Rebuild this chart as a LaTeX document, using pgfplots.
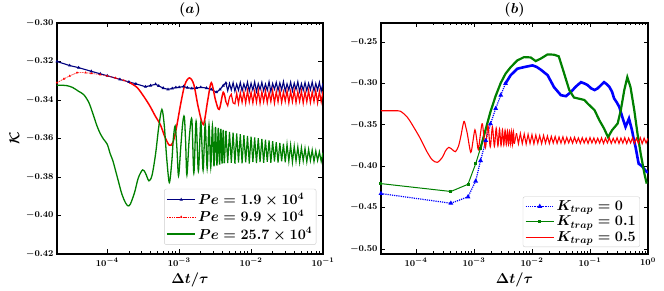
\documentclass[border=0pt]{standalone}
\usepackage{pgfplots}
\usepackage{pgfplotstable}
\pgfplotsset{compat=1.18}
\definecolor{navyc}{RGB}{0,0,128}
\definecolor{greenc}{RGB}{0,128,0}
\definecolor{redc}{RGB}{255,0,0}
\definecolor{bluec}{RGB}{0,0,255}

\pgfplotstableread{
x b r g
0.004467 -0.3312 -0.3410 -0.3560
0.004732 -0.3352 -0.3430 -0.3728
0.005012 -0.3314 -0.3385 -0.3566
0.005309 -0.3348 -0.3370 -0.3726
0.005623 -0.3310 -0.3415 -0.3570
0.005957 -0.3355 -0.3420 -0.3731
0.006310 -0.3318 -0.3365 -0.3574
0.006683 -0.3350 -0.3418 -0.3725
0.007079 -0.3309 -0.3362 -0.3578
0.007499 -0.3353 -0.3412 -0.3729
0.007943 -0.3316 -0.3358 -0.3583
0.008414 -0.3347 -0.3416 -0.3724
0.008913 -0.3307 -0.3352 -0.3587
0.009441 -0.3354 -0.3410 -0.3730
0.010000 -0.3313 -0.3360 -0.3590
0.010593 -0.3349 -0.3415 -0.3723
0.011220 -0.3306 -0.3355 -0.3595
0.011885 -0.3356 -0.3411 -0.3728
0.012589 -0.3315 -0.3350 -0.3598
0.013335 -0.3346 -0.3417 -0.3722
0.014125 -0.3308 -0.3357 -0.3602
0.014962 -0.3352 -0.3409 -0.3727
0.015849 -0.3317 -0.3353 -0.3606
0.016788 -0.3350 -0.3414 -0.3721
0.017783 -0.3305 -0.3359 -0.3610
0.018836 -0.3357 -0.3408 -0.3726
0.019953 -0.3314 -0.3351 -0.3614
0.021135 -0.3345 -0.3416 -0.3720
0.022387 -0.3308 -0.3356 -0.3619
0.023714 -0.3351 -0.3410 -0.3725
0.025119 -0.3311 -0.3349 -0.3623
0.026607 -0.3348 -0.3413 -0.3719
0.028184 -0.3304 -0.3358 -0.3627
0.029854 -0.3355 -0.3407 -0.3724
0.031623 -0.3316 -0.3352 -0.3631
0.033497 -0.3349 -0.3415 -0.3718
0.035481 -0.3307 -0.3355 -0.3635
0.037584 -0.3353 -0.3409 -0.3723
0.039811 -0.3312 -0.3350 -0.3640
0.042170 -0.3346 -0.3414 -0.3717
0.044668 -0.3305 -0.3357 -0.3644
0.047315 -0.3356 -0.3408 -0.3722
0.050119 -0.3315 -0.3353 -0.3648
0.053088 -0.3350 -0.3416 -0.3716
0.056234 -0.3309 -0.3356 -0.3652
0.059566 -0.3352 -0.3410 -0.3721
0.063096 -0.3313 -0.3351 -0.3656
0.066834 -0.3347 -0.3413 -0.3715
0.070795 -0.3306 -0.3358 -0.3660
0.074989 -0.3354 -0.3409 -0.3720
0.079433 -0.3314 -0.3352 -0.3665
0.084140 -0.3349 -0.3415 -0.3714
0.089125 -0.3308 -0.3355 -0.3669
0.094406 -0.3355 -0.3410 -0.3719
0.100000 -0.3312 -0.3354 -0.3673
}\leftnoise

\pgfplotstableread{
x r
0.005412 -0.3600
0.005843 -0.3728
0.006310 -0.3605
0.006813 -0.3726
0.007356 -0.3612
0.007943 -0.3731
0.008577 -0.3615
0.009261 -0.3724
0.010000 -0.3620
0.010798 -0.3729
0.011659 -0.3624
0.012589 -0.3722
0.013594 -0.3630
0.014678 -0.3727
0.015849 -0.3628
0.017113 -0.3721
0.018478 -0.3636
0.019953 -0.3726
0.021544 -0.3640
0.023263 -0.3719
0.025119 -0.3642
0.027123 -0.3724
0.029286 -0.3648
0.031623 -0.3720
0.034145 -0.3645
0.036869 -0.3725
0.039811 -0.3652
0.042987 -0.3718
0.046416 -0.3655
0.050119 -0.3722
0.054117 -0.3650
0.058434 -0.3717
0.063096 -0.3658
0.068129 -0.3723
0.073564 -0.3656
0.079433 -0.3719
0.085770 -0.3660
0.092611 -0.3724
0.100000 -0.3654
0.107980 -0.3718
0.116590 -0.3659
0.125890 -0.3722
0.135940 -0.3662
0.146780 -0.3720
0.158490 -0.3657
0.171130 -0.3725
0.184780 -0.3661
0.199530 -0.3719
0.215440 -0.3658
0.232630 -0.3723
0.251190 -0.3663
0.271230 -0.3718
0.292860 -0.3656
0.316230 -0.3724
0.341450 -0.3660
0.368690 -0.3720
0.398110 -0.3655
0.429870 -0.3726
0.464160 -0.3661
0.501190 -0.3719
0.541170 -0.3657
0.584340 -0.3724
0.630960 -0.3662
0.681290 -0.3721
0.735640 -0.3656
0.794330 -0.3727
0.857700 -0.3660
0.926110 -0.3720
1.000000 -0.3664
}\rightnoise

\pgfplotsset{
  every axis/.append style={
    scale only axis,
    axis line style={line width=1.4pt},
    tick style={line width=0.8pt, black},
    major tick length=4.5pt,
    minor tick length=2.5pt,
    tick label style={font=\boldmath\fontsize{9.5}{11}\selectfont},
    label style={font=\boldmath\fontsize{13.5}{15}\selectfont},
    title style={font=\boldmath\fontsize{14}{16}\selectfont, yshift=-4pt},
    legend cell align=left,
    yticklabel style={/pgf/number format/.cd, fixed, fixed zerofill, precision=2},
  },
  legend image code/.code={\draw[mark repeat=2,mark phase=2,#1] plot coordinates {(0cm,0cm) (0.5cm,0cm) (1cm,0cm)};},
}

\begin{document}
\begin{tikzpicture}
\path[use as bounding box] (-57pt,-37pt) rectangle (607pt,254pt);

% ---------------- (a) ----------------
\begin{axis}[xmode=log,
  at={(0pt,0pt)}, anchor=south west,
  width=266pt, height=231pt,
  xmin=2e-5, xmax=0.1,
  ymin=-0.42, ymax=-0.30,
  ytick={-0.42,-0.40,-0.38,-0.36,-0.34,-0.32,-0.30},
  xtick={1e-4,1e-3,1e-2,1e-1},
  title={$(a)$},
  xlabel={$\Delta t/\tau$},
  ylabel={$\mathcal{K}$},
  legend style={at={(0.975,0.04)}, anchor=south east,
    font=\boldmath\fontsize{14}{16}\selectfont, draw=black!20,
    rounded corners=2pt, fill=white,
    inner sep=2pt, row sep=0pt},
]
% Pe = 1.9e4
\addplot[color=navyc, draw=navyc, line width=1.1pt, mark=triangle*, mark size=0.8pt] coordinates {
(2e-5,-0.3200) (3e-5,-0.3221) (4e-5,-0.3232) (6e-5,-0.3251) (8e-5,-0.3264)
(1e-4,-0.3274) (1.5e-4,-0.3293) (2e-4,-0.3306) (2.5e-4,-0.3316) (3.4e-4,-0.3331)
(4e-4,-0.3325) (4.7e-4,-0.3318) (5.2e-4,-0.3327) (6e-4,-0.3338) (7e-4,-0.3345)
(8e-4,-0.3340) (9e-4,-0.3335) (1e-3,-0.3334) (1.15e-3,-0.3330) (1.3e-3,-0.3336)
(1.5e-3,-0.3340) (1.75e-3,-0.3337) (2e-3,-0.3334) (2.4e-3,-0.3338) (2.8e-3,-0.3345)
(3.3e-3,-0.3360) (3.7e-3,-0.3345) (4.1e-3,-0.3325) (4.467e-3,-0.3312)
};
\addlegendentry{$Pe = 1.9\times 10^{4}$}
\addplot[navyc, line width=1.1pt, forget plot] table[x=x, y=b] {\leftnoise};

% Pe = 9.9e4
\addplot[color=redc, draw=redc, line width=0.6pt, dash pattern=on 1.5pt off 0.8pt, mark=triangle*, mark size=0.8pt, mark options={solid, fill=redc, draw=redc}] coordinates {
(2e-5,-0.3310) (2.5e-5,-0.3290) (3e-5,-0.3275) (3.8e-5,-0.3258) (5e-5,-0.3258)
(6e-5,-0.3262) (8e-5,-0.3268) (1e-4,-0.3275) (1.3e-4,-0.3285) (1.7e-4,-0.3298)
(2.1e-4,-0.3312)
};
\addlegendentry{$Pe = 9.9\times 10^{4}$}
\addplot[color=redc, line width=1.5pt, smooth, forget plot] coordinates {
(2.1e-4,-0.3312) (2.6e-4,-0.3335) (3.2e-4,-0.3380) (3.9e-4,-0.3430) (4.6e-4,-0.3480)
(5.5e-4,-0.3530) (6.3e-4,-0.3590) (7.3e-4,-0.3635) (8.2e-4,-0.3620) (9.2e-4,-0.3540)
(1.05e-3,-0.3420) (1.2e-3,-0.3320) (1.39e-3,-0.3285) (1.6e-3,-0.3320) (1.85e-3,-0.3440)
(2.17e-3,-0.3527) (2.5e-3,-0.3400) (2.8e-3,-0.3310) (3.2e-3,-0.3400) (3.6e-3,-0.3449)
(4.1e-3,-0.3360) (4.467e-3,-0.3410)
};
\addplot[color=redc, line width=1.2pt, forget plot] table[x=x, y=r] {\leftnoise};

% Pe = 25.7e4
\addplot[color=greenc, draw=greenc, line width=1.3pt, smooth] coordinates {
(2e-5,-0.3323) (2.7e-5,-0.3325) (3.3e-5,-0.3335) (4e-5,-0.3355) (4.7e-5,-0.3372)
(5.5e-5,-0.3410) (6.3e-5,-0.3470) (7.2e-5,-0.3535) (8e-5,-0.3575) (8.9e-5,-0.3604)
(1e-4,-0.3630) (1.1e-4,-0.3680) (1.2e-4,-0.3717) (1.4e-4,-0.3810) (1.6e-4,-0.3890)
(1.8e-4,-0.3935) (1.95e-4,-0.3950) (2.1e-4,-0.3940) (2.4e-4,-0.3880) (2.7e-4,-0.3805)
(3.1e-4,-0.3763) (3.4e-4,-0.3780) (3.8e-4,-0.3820) (4.2e-4,-0.3790) (4.7e-4,-0.3680)
(5.2e-4,-0.3540) (5.75e-4,-0.3449) (6.2e-4,-0.3530) (6.7e-4,-0.3700) (7.3e-4,-0.3829)
(7.9e-4,-0.3720) (8.3e-4,-0.3600) (8.8e-4,-0.3535) (9.3e-4,-0.3650) (9.8e-4,-0.3794)
(1.05e-3,-0.3650) (1.12e-3,-0.3520) (1.18e-3,-0.3487) (1.23e-3,-0.3620) (1.28e-3,-0.3790)
(1.38e-3,-0.3600) (1.5e-3,-0.3500) (1.6e-3,-0.3780) (1.72e-3,-0.3510) (1.85e-3,-0.3770)
(2.0e-3,-0.3515) (2.15e-3,-0.3765) (2.3e-3,-0.3525) (2.45e-3,-0.3755) (2.6e-3,-0.3530)
(2.75e-3,-0.3750) (2.9e-3,-0.3535) (3.05e-3,-0.3745) (3.2e-3,-0.3540) (3.35e-3,-0.3740)
(3.5e-3,-0.3545) (3.65e-3,-0.3735) (3.8e-3,-0.3550) (3.95e-3,-0.3730) (4.1e-3,-0.3556)
(4.25e-3,-0.3728)
};
\addlegendentry{$Pe = 25.7\times 10^{4}$}
\addplot[greenc, line width=1.3pt, forget plot] coordinates {(4.25e-3,-0.3728) (4.467e-3,-0.3560)};
\addplot[greenc, line width=1.2pt, forget plot] table[x=x, y=g] {\leftnoise};
\end{axis}

% ---------------- (b) ----------------
\begin{axis}[xmode=log,
  at={(324pt,0pt)}, anchor=south west,
  width=267pt, height=231pt,
  xmin=2.5e-5, xmax=1,
  ymin=-0.506, ymax=-0.227,
  ytick={-0.50,-0.45,-0.40,-0.35,-0.30,-0.25},
  xtick={1e-4,1e-3,1e-2,1e-1,1},
  title={$(b)$},
  xlabel={$\Delta t/\tau$},
  legend style={at={(0.97,0.03)}, anchor=south east,
    font=\boldmath\fontsize{14}{16}\selectfont, draw=black!20,
    rounded corners=2pt, fill=white,
    inner sep=2pt, row sep=0pt},
]
% K = 0
\addplot[color=bluec, draw=bluec, line width=1.2pt, densely dotted, mark=triangle*, mark size=1.6pt, mark options={solid, fill=bluec, draw=bluec}] coordinates {
(2.5e-5,-0.4330) (4e-4,-0.4447) (7.9e-4,-0.4370) (1.07e-3,-0.4180) (1.3e-3,-0.3932)
(1.6e-3,-0.3690) (1.93e-3,-0.3488) (2.37e-3,-0.3303) (2.9e-3,-0.3142) (3.5e-3,-0.3000)
};
\addlegendentry{$K_{trap} = 0$}
\addplot[bluec, line width=2.6pt, forget plot] coordinates {
(3.5e-3,-0.3000) (4.3e-3,-0.2900) (5.6e-3,-0.2822) (7.3e-3,-0.2803) (1.02e-2,-0.2782)
(1.2e-2,-0.2800) (1.42e-2,-0.2834) (1.86e-2,-0.2900) (2.4e-2,-0.3045) (3.15e-2,-0.3142)
(3.85e-2,-0.3154) (4.7e-2,-0.3103) (5.5e-2,-0.3050) (6.1e-2,-0.3020) (7e-2,-0.2985)
(8e-2,-0.3000) (9.1e-2,-0.3020) (0.105,-0.3060) (0.12,-0.3080) (0.135,-0.3060)
(0.145,-0.3040) (0.16,-0.3010) (0.175,-0.2985) (0.195,-0.3010) (0.215,-0.3040)
(0.24,-0.3100) (0.26,-0.3180) (0.29,-0.3230) (0.32,-0.3283) (0.36,-0.3404)
(0.41,-0.3525) (0.47,-0.3424) (0.53,-0.3565) (0.57,-0.3680) (0.61,-0.3767)
(0.69,-0.3969) (0.79,-0.4000) (0.9,-0.4050) (1.0,-0.4080)
};

% K = 0.1
\addplot[color=greenc, draw=greenc, line width=1pt, mark=square*, mark size=1pt, mark options={fill=greenc, draw=greenc}] coordinates {
(2.5e-5,-0.4210) (4e-4,-0.4305) (7.9e-4,-0.4218) (1.07e-3,-0.3970) (1.3e-3,-0.3780)
};
\addlegendentry{$K_{trap} = 0.1$}
\addplot[greenc, line width=2.2pt, forget plot] coordinates {
(1.3e-3,-0.3780) (1.6e-3,-0.3550) (1.93e-3,-0.3340) (2.37e-3,-0.3150) (2.9e-3,-0.2993)
(3.5e-3,-0.2883) (4.3e-3,-0.2803) (5.6e-3,-0.2722) (7.3e-3,-0.2682) (9.5e-3,-0.2686)
(1.16e-2,-0.2730) (1.42e-2,-0.2700) (1.86e-2,-0.2649) (2.4e-2,-0.2653) (2.9e-2,-0.2673)
(3.6e-2,-0.2883) (4.4e-2,-0.3081) (5.3e-2,-0.3170) (7e-2,-0.3190) (8e-2,-0.3200)
(9.1e-2,-0.3242) (0.12,-0.3323) (0.145,-0.3444) (0.175,-0.3545) (0.205,-0.3650)
(0.24,-0.3565) (0.30,-0.3484) (0.34,-0.3323) (0.39,-0.3081) (0.44,-0.2924)
(0.50,-0.3045) (0.58,-0.3323) (0.66,-0.3610) (0.75,-0.3852) (0.87,-0.4094)
(0.95,-0.4210)
};

% K = 0.5
\addplot[color=redc, draw=redc, line width=1.1pt, smooth] coordinates {
(2.5e-5,-0.3330) (4.2e-5,-0.3330) (5.4e-5,-0.3336) (7.1e-5,-0.3408) (9.2e-5,-0.3530)
(1.2e-4,-0.3670) (1.57e-4,-0.3832) (1.92e-4,-0.3924) (2.34e-4,-0.3953) (2.85e-4,-0.3893)
(3.25e-4,-0.3812) (3.7e-4,-0.3772) (4.25e-4,-0.3800) (4.8e-4,-0.3824) (5.4e-4,-0.3760)
(5.9e-4,-0.3650) (6.7e-4,-0.3460) (7.2e-4,-0.3520) (7.7e-4,-0.3610) (8.8e-4,-0.3832)
(9.6e-4,-0.3700) (1.04e-3,-0.3560) (1.12e-3,-0.3680) (1.19e-3,-0.3800) (1.3e-3,-0.3600)
(1.4e-3,-0.3488) (1.57e-3,-0.3780) (1.74e-3,-0.3510) (1.91e-3,-0.3765) (2.08e-3,-0.3525)
(2.25e-3,-0.3760) (2.42e-3,-0.3540) (2.59e-3,-0.3755) (2.76e-3,-0.3550) (2.93e-3,-0.3750)
(3.10e-3,-0.3560) (3.27e-3,-0.3745) (3.44e-3,-0.3565) (3.61e-3,-0.3740) (3.78e-3,-0.3572)
(3.95e-3,-0.3738) (4.12e-3,-0.3578) (4.29e-3,-0.3735) (4.46e-3,-0.3585) (4.63e-3,-0.3732)
(4.80e-3,-0.3590) (4.97e-3,-0.3730)
};
\addlegendentry{$K_{trap} = 0.5$}
\addplot[color=redc, line width=1.1pt, forget plot] coordinates {(4.97e-3,-0.3730) (5.412e-3,-0.3600)};
\addplot[color=redc, line width=1.1pt, forget plot] table[x=x, y=r] {\rightnoise};
\end{axis}
\end{tikzpicture}
\end{document}
